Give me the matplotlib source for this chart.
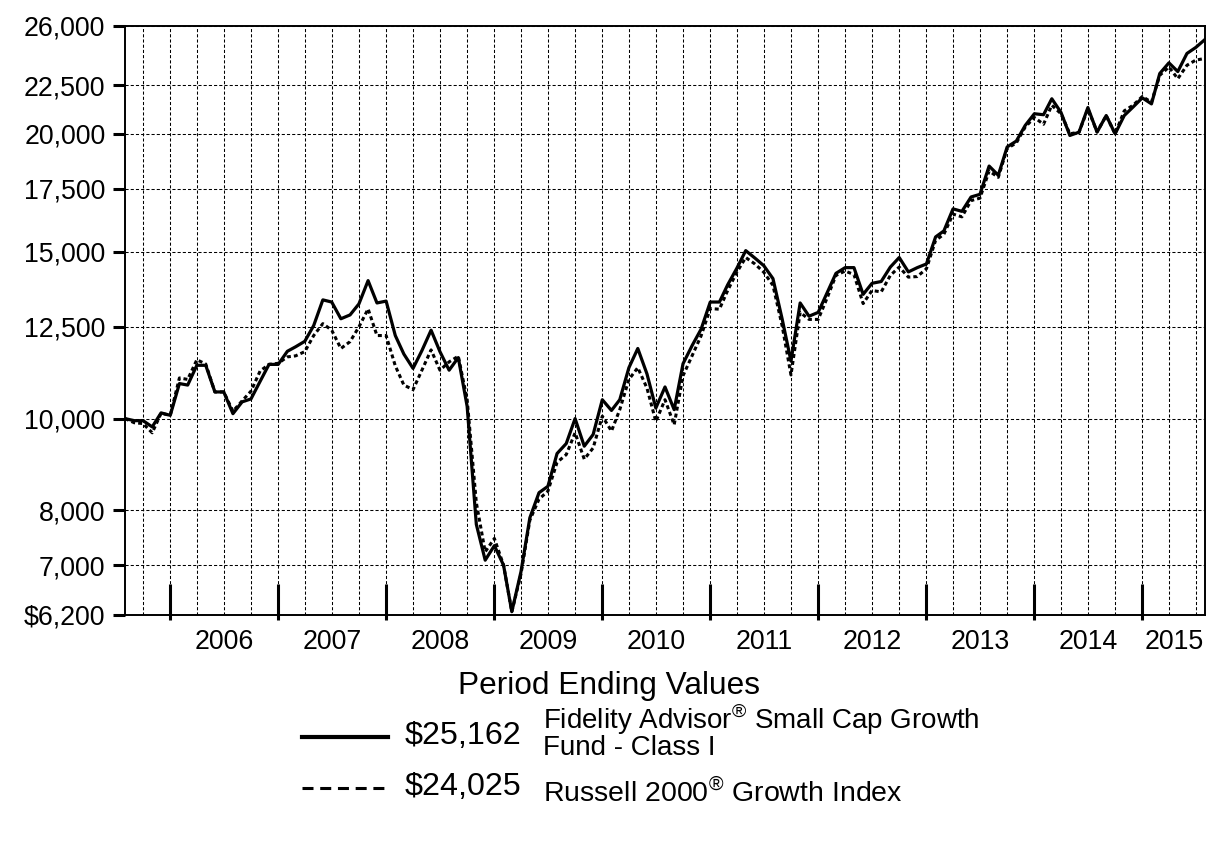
import numpy as np
import pandas as pd
import matplotlib
matplotlib.use('Agg')
import matplotlib.pyplot as plt
import matplotlib.dates as mdates
from matplotlib.ticker import NullLocator
from matplotlib.transforms import blended_transform_factory

plt.rcParams['font.family'] = ['Liberation Sans', 'DejaVu Sans']
plt.rcParams['mathtext.fontset'] = 'custom'
plt.rcParams['mathtext.rm'] = 'Liberation Sans'

# monthly values of a hypothetical $10,000 investment, Jul 2005 - Jul 2015
dates = pd.date_range('2005-07-31', '2015-07-31', freq='ME')

fund = [10000, 9950, 9950, 9800, 10140, 10080, 10890, 10850, 11385, 11385,
        10670, 10670, 10120, 10415, 10490, 10950, 11410, 11410, 11780, 11910,
        12070, 12540, 13350, 13280, 12750, 12870, 13220, 13990, 13250, 13310,
        12240, 11700, 11300, 11800, 12400, 11770, 11250, 11600, 10300, 7730,
        7085, 7340, 7000, 6250, 6890, 7855, 8350, 8480, 9185, 9410,
        10000, 9350, 9620, 10470, 10200, 10470, 11320, 11860, 11150, 10260,
        10800, 10220, 11430, 11950, 12430, 13280, 13280, 13850, 14420, 15050,
        14780, 14510, 14060, 12750, 11500, 13250, 12830, 12950, 13600, 14240,
        14440, 14440, 13530, 13900, 13960, 14460, 14800, 14290, 14440, 14570,
        15560, 15790, 16660, 16560, 17150, 17260, 18490, 18080, 19370, 19650,
        20410, 21000, 20950, 21780, 21070, 19920, 20080, 21320, 20080, 20910,
        20000, 20910, 21350, 21830, 21510, 23160, 23770, 23270, 24320, 24680,
        25162]

index = [10000, 9900, 9880, 9660, 10130, 10080, 11040, 11000, 11540, 11420,
         10670, 10670, 10180, 10440, 10690, 11230, 11410, 11440, 11620, 11650,
         11770, 12240, 12600, 12400, 11860, 12060, 12500, 13060, 12240, 12240,
         11370, 10850, 10730, 11250, 11820, 11250, 11480, 11640, 10470, 8150,
         7230, 7470, 7000, 6250, 6850, 7810, 8220, 8380, 8990, 9160,
         9660, 9060, 9310, 10060, 9700, 10220, 11000, 11320, 10770, 9930,
         10470, 9850, 11100, 11660, 12230, 13070, 13050, 13660, 14280, 14800,
         14570, 14280, 13830, 12540, 11120, 12950, 12730, 12730, 13430, 14170,
         14320, 14200, 13230, 13660, 13610, 14170, 14460, 14110, 14130, 14400,
         15430, 15660, 16450, 16340, 17000, 17100, 18270, 17990, 19300, 19560,
         20330, 20810, 20470, 21440, 21000, 20000, 20080, 21250, 20100, 20900,
         20000, 21150, 21440, 21900, 21600, 23060, 23530, 22870, 23630, 23930,
         24025]

y_ticks = [6200, 7000, 8000, 10000, 12500, 15000, 17500, 20000, 22500, 26000]
y_labels = ['$6,200', '7,000', '8,000', '10,000', '12,500', '15,000',
            '17,500', '20,000', '22,500', '26,000']
years = list(range(2006, 2016))

fig = plt.figure(figsize=(12.27, 8.52), dpi=100)
ax = fig.add_axes([125/1227, 1 - 615/852, 1080/1227, 589/852])

ax.plot(dates, index, color='black', lw=2.2, ls=(0, (1.3, 1.0)), zorder=3)
ax.plot(dates, fund, color='black', lw=2.3, zorder=4)

ax.set_yscale('log')
ax.set_ylim(6200, 26000)
ax.set_xlim(dates[0], dates[-1])
ax.yaxis.set_minor_locator(NullLocator())
ax.set_yticks(y_ticks)
ax.set_yticklabels(y_labels)
ax.tick_params(axis='y', length=8.6, width=2.2, pad=5.5, labelsize=19.3)

# quarterly dotted grid
quarters = pd.date_range('2005-09-30', '2015-06-30', freq='QE')
ax.set_xticks(quarters, minor=True)
ax.grid(which='minor', axis='x', color='black', lw=0.75, ls=(0, (3, 2)))
ax.grid(which='major', axis='y', color='black', lw=0.75, ls=(0, (3, 2)))

# year labels centred inside each year
starts = [max(pd.Timestamp(f'{y}-01-01'), dates[0]) for y in years]
ends = [min(pd.Timestamp(f'{y}-12-31'), dates[-1]) for y in years]
centers = [s + (e - s) / 2 for s, e in zip(starts, ends)]
ax.set_xticks(centers)
ax.set_xticklabels([str(y) for y in years])
ax.tick_params(axis='x', which='both', length=0, pad=10, labelsize=19.3)

# year boundary marks
trans = blended_transform_factory(ax.transData, ax.transAxes)
bounds = [pd.Timestamp(f'{y - 1}-12-31') for y in years]
ax.vlines(bounds, -5/589, 31/589, transform=trans, color='black',
          lw=2.2, clip_on=False, zorder=5)

for s in ax.spines.values():
    s.set_linewidth(1.4)

# legend block
def fx(px):
    return px / 1227

def fy(py):
    return 1 - py / 852

fig.text(fx(609), fy(686), 'Period Ending Values', ha='center', va='center',
         fontsize=22.8)
fig.add_artist(plt.Line2D([fx(302), fx(388)], [fy(737), fy(737)],
                          color='black', lw=3))
fig.add_artist(plt.Line2D([fx(302), fx(384)], [fy(788), fy(788)],
                          color='black', lw=2.2, ls=(0, (3.6, 2.2))))
fig.text(fx(405), fy(736), '$25,162', ha='left', va='center', fontsize=23.2)
fig.text(fx(405), fy(787), '$24,025', ha='left', va='center', fontsize=23.2)
fig.text(fx(543), fy(719), r'Fidelity Advisor$^{\circledR}$ Small Cap Growth',
         ha='left', va='center', fontsize=20)
fig.text(fx(543), fy(748), 'Fund - Class I', ha='left', va='center',
         fontsize=20)
fig.text(fx(543), fy(793), r'Russell 2000$^{\circledR}$ Growth Index',
         ha='left', va='center', fontsize=20.5)

fig.savefig('out.png', dpi=100)
